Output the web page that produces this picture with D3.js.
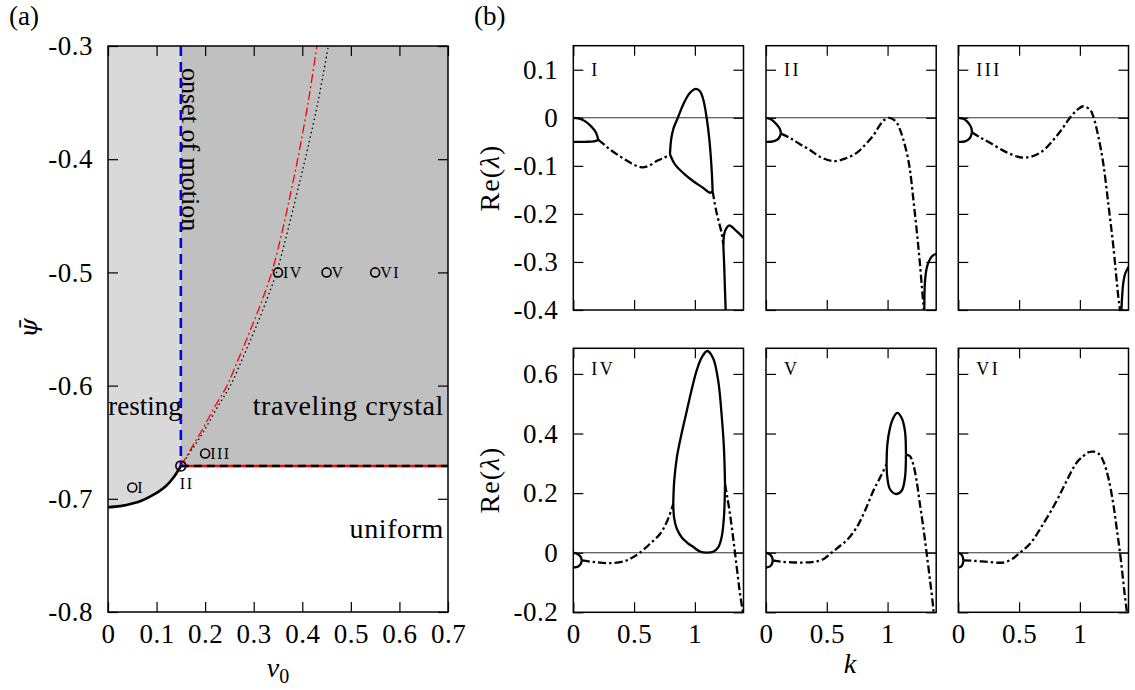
<!DOCTYPE html>
<html>
<head>
<meta charset="utf-8">
<script src="https://cdn.jsdelivr.net/npm/d3@7"></script>
<style>
  html, body { margin: 0; padding: 0; background: #fff; }
  svg { display: block; }
  text { font-family: "Liberation Serif", "Times New Roman", serif; fill: #000; }
</style>
</head>
<body>
<svg id="fig" width="1135" height="690"></svg>
<script>
// ---------- (a) phase diagram in the (v0, psi) plane ----------
const v0Ticks = [0, 0.1, 0.2, 0.3, 0.4, 0.5, 0.6, 0.7];
const v0TickLabels = ["0", "0.1", "0.2", "0.3", "0.4", "0.5", "0.6", "0.7"];
const psiTicks = [-0.3, -0.4, -0.5, -0.6, -0.7, -0.8];
const psiTickLabels = ["-0.3", "-0.4", "-0.5", "-0.6", "-0.7", "-0.8"];

// stationary-crystal existence boundary, [v0, psi]
const restingBoundary = [[0, -0.7075], [0.025, -0.7065], [0.052, -0.704], [0.07, -0.7015],
  [0.0865, -0.698], [0.105, -0.6935], [0.121, -0.688], [0.136, -0.6805], [0.15, -0.671]];
// onset of motion and the codimension-two point
const v0Onset = 0.15;
const psiCodim2 = -0.671;
// linear stability thresholds of the uniform state
const oscillatoryBoundary = [[0.15, -0.671], [0.172, -0.655], [0.194, -0.639], [0.218, -0.62],
  [0.245, -0.6], [0.27, -0.575], [0.294, -0.55], [0.317, -0.525], [0.337, -0.5], [0.358, -0.465],
  [0.376, -0.43], [0.3905, -0.4], [0.412, -0.35], [0.43, -0.3]];
const travelingBoundary = [[0.15, -0.671], [0.175, -0.655], [0.199, -0.639], [0.224, -0.62],
  [0.252, -0.6], [0.278, -0.575], [0.303, -0.55], [0.326, -0.525], [0.347, -0.5], [0.369, -0.465],
  [0.389, -0.43], [0.406, -0.4], [0.432, -0.35], [0.4537, -0.3]];
// parameter sets whose dispersion relations are shown in (b)
const samplePoints = [
  { name: "I", v0: 0.05, psi: -0.69 },
  { name: "II", v0: 0.15, psi: -0.671 },
  { name: "III", v0: 0.2, psi: -0.66 },
  { name: "IV", v0: 0.35, psi: -0.5 },
  { name: "V", v0: 0.45, psi: -0.5 },
  { name: "VI", v0: 0.55, psi: -0.5 }
];

// ---------- (b) dispersion relations Re(lambda)(k) ----------
const kTicks = [0, 0.5, 1];
const kTickLabels = ["0", "0.5", "1"];
const reTicksTop = [0.1, 0, -0.1, -0.2, -0.3, -0.4];
const reTickLabelsTop = ["0.1", "0", "-0.1", "-0.2", "-0.3", "-0.4"];
const reTicksBottom = [0.6, 0.4, 0.2, 0, -0.2];
const reTickLabelsBottom = ["0.6", "0.4", "0.2", "0", "-0.2"];

// "real": real eigenvalues, "complex": complex-conjugate pairs; points are [k, Re(lambda)]
const dispersionI = [
  { kind: "real", pts: [[0, 0], [0.041, -0.001], [0.096, -0.007], [0.151, -0.019], [0.187, -0.031], [0.206, -0.046]] },
  { kind: "real", pts: [[0, -0.05], [0.1, -0.05], [0.17, -0.049], [0.206, -0.046]] },
  { kind: "complex", pts: [[0.206, -0.046], [0.25, -0.055], [0.302, -0.066], [0.37, -0.078], [0.439, -0.089],
    [0.5, -0.098], [0.562, -0.103], [0.62, -0.1], [0.686, -0.09], [0.74, -0.084], [0.795, -0.076]] },
  { kind: "real", pts: [[0.795, -0.076], [0.805, -0.045], [0.822, -0.024], [0.863, 0.002], [0.905, 0.028],
    [0.96, 0.052], [1.009, 0.06], [1.042, 0.055], [1.069, 0.038], [1.097, 0.0], [1.119, -0.045],
    [1.138, -0.108], [1.146, -0.153]] },
  { kind: "real", pts: [[0.795, -0.076], [0.836, -0.097], [0.905, -0.115], [0.987, -0.132], [1.069, -0.146],
    [1.124, -0.156], [1.146, -0.153]] },
  { kind: "complex", pts: [[1.146, -0.153], [1.179, -0.198], [1.22, -0.24], [1.234, -0.264]] },
  { kind: "real", pts: [[1.234, -0.264], [1.243, -0.24], [1.261, -0.229], [1.283, -0.224], [1.343, -0.236], [1.4, -0.25]] },
  { kind: "real", pts: [[1.234, -0.264], [1.24, -0.3], [1.245, -0.337], [1.253, -0.4], [1.255, -0.42]] }
];
const dispersionII = [
  { kind: "real", pts: [[0, 0], [0.047, -0.004], [0.088, -0.014], [0.115, -0.024], [0.123, -0.033]] },
  { kind: "real", pts: [[0, -0.05], [0.06, -0.049], [0.101, -0.044], [0.123, -0.033]] },
  { kind: "complex", pts: [[0.123, -0.033], [0.197, -0.042], [0.28, -0.055], [0.362, -0.067], [0.45, -0.082],
    [0.554, -0.09], [0.65, -0.085], [0.746, -0.073], [0.82, -0.055], [0.882, -0.037], [0.93, -0.018],
    [0.965, -0.006], [1.014, 0], [1.045, -0.003], [1.075, -0.01], [1.1, -0.023], [1.129, -0.045],
    [1.16, -0.075], [1.184, -0.108], [1.21, -0.165], [1.239, -0.233], [1.265, -0.3], [1.289, -0.372],
    [1.299, -0.4], [1.302, -0.42]] },
  { kind: "real", pts: [[1.301, -0.42], [1.302, -0.4], [1.307, -0.344], [1.32, -0.315], [1.335, -0.302],
    [1.362, -0.289], [1.4, -0.283]] }
];
const dispersionIII = [
  { kind: "real", pts: [[0, 0], [0.04, -0.002], [0.069, -0.007], [0.095, -0.015], [0.108, -0.022], [0.112, -0.03]] },
  { kind: "real", pts: [[0, -0.05], [0.055, -0.049], [0.096, -0.042], [0.112, -0.03]] },
  { kind: "complex", pts: [[0.112, -0.03], [0.18, -0.041], [0.26, -0.052], [0.398, -0.072], [0.535, -0.083],
    [0.672, -0.073], [0.809, -0.038], [0.919, 0.0], [0.98, 0.017], [1.028, 0.024], [1.083, 0.017],
    [1.11, 0.003], [1.151, -0.038], [1.192, -0.094], [1.233, -0.177], [1.275, -0.267], [1.316, -0.372],
    [1.33, -0.4], [1.334, -0.42]] },
  { kind: "real", pts: [[1.34, -0.42], [1.342, -0.4], [1.348, -0.37], [1.358, -0.342], [1.372, -0.325], [1.4, -0.31]] }
];
const dispersionIV = [
  { kind: "real", pts: [[0, 0], [0.041, -0.006], [0.062, -0.015], [0.069, -0.026]] },
  { kind: "real", pts: [[0, -0.05], [0.041, -0.046], [0.062, -0.037], [0.069, -0.026]] },
  { kind: "complex", pts: [[0.069, -0.026], [0.165, -0.031], [0.302, -0.035], [0.439, -0.026], [0.494, -0.0145],
    [0.548, 0], [0.631, 0.03], [0.713, 0.063], [0.768, 0.102], [0.822, 0.163]] },
  { kind: "real", pts: [[0.822, 0.163], [0.83, 0.24], [0.852, 0.32], [0.891, 0.4], [0.933, 0.475],
    [0.974, 0.548], [1.015, 0.612], [1.056, 0.655], [1.102, 0.677], [1.151, 0.652], [1.193, 0.574],
    [1.22, 0.463], [1.239, 0.352], [1.248, 0.23]] },
  { kind: "real", pts: [[0.822, 0.163], [0.83, 0.115], [0.85, 0.082], [0.891, 0.052], [0.933, 0.035],
    [0.987, 0.019], [1.042, 0.004], [1.097, 0], [1.151, 0.003], [1.193, 0.019], [1.22, 0.052],
    [1.239, 0.119], [1.248, 0.23]] },
  { kind: "complex", pts: [[1.248, 0.23], [1.265, 0.19], [1.289, 0.13], [1.31, 0.065], [1.33, 0],
    [1.35, -0.068], [1.371, -0.137], [1.395, -0.2], [1.4, -0.215]] }
];
const dispersionV = [
  { kind: "real", pts: [[0, 0], [0.033, -0.006], [0.05, -0.015], [0.055, -0.026]] },
  { kind: "real", pts: [[0, -0.05], [0.033, -0.046], [0.05, -0.037], [0.055, -0.026]] },
  { kind: "complex", pts: [[0.055, -0.026], [0.12, -0.03], [0.2, -0.032], [0.307, -0.033], [0.4, -0.03],
    [0.471, -0.022], [0.54, 0], [0.6, 0.02], [0.663, 0.041], [0.746, 0.085], [0.814, 0.141],
    [0.883, 0.208], [0.938, 0.252], [0.992, 0.297]] },
  { kind: "real", pts: [[0.992, 0.297], [0.998, 0.363], [1.02, 0.419], [1.047, 0.452], [1.08, 0.469],
    [1.116, 0.452], [1.143, 0.408], [1.151, 0.33]] },
  { kind: "real", pts: [[0.992, 0.297], [0.998, 0.252], [1.02, 0.213], [1.069, 0.197], [1.116, 0.208],
    [1.143, 0.252], [1.151, 0.33]] },
  { kind: "complex", pts: [[1.151, 0.33], [1.184, 0.324], [1.211, 0.297], [1.239, 0.241], [1.266, 0.163],
    [1.294, 0.085], [1.321, 0], [1.349, -0.092], [1.376, -0.187], [1.38, -0.215]] }
];
const dispersionVI = [
  { kind: "real", pts: [[0, 0], [0.025, -0.006], [0.037, -0.015], [0.041, -0.026]] },
  { kind: "real", pts: [[0, -0.05], [0.025, -0.046], [0.037, -0.037], [0.041, -0.026]] },
  { kind: "complex", pts: [[0.041, -0.026], [0.123, -0.027], [0.25, -0.031], [0.37, -0.033], [0.44, -0.022],
    [0.507, 0], [0.59, 0.03], [0.699, 0.097], [0.809, 0.174], [0.891, 0.241], [0.973, 0.302],
    [1.028, 0.324], [1.07, 0.337], [1.116, 0.339], [1.16, 0.33], [1.192, 0.308], [1.234, 0.252],
    [1.275, 0.163], [1.302, 0.085], [1.33, 0], [1.371, -0.148], [1.387, -0.2], [1.39, -0.215]] }
];

// ---------- drawing ----------
const svg = d3.select("#fig");
const FONT = '"Liberation Serif", "Times New Roman", serif';
const TICK_FONT = "27px";

// four-sided frame with inward ticks; labels only where given
function frame(g, x, y, xt, xl, yt, yl) {
  const [xa, xb] = x.range();
  const [yb, ya] = y.range();
  const axes = [
    { ax: d3.axisBottom(x).tickValues(xt).tickPadding(12).tickFormat(xl ? (d, i) => xl[i] : ""), t: `translate(0,${yb})` },
    { ax: d3.axisTop(x).tickValues(xt).tickFormat(""), t: `translate(0,${ya})` },
    { ax: d3.axisLeft(y).tickValues(yt).tickPadding(15).tickFormat(yl ? (d, i) => yl[i] : ""), t: `translate(${xa},0)` },
    { ax: d3.axisRight(y).tickValues(yt).tickFormat(""), t: `translate(${xb},0)` }
  ];
  axes.forEach(a => {
    const ag = g.append("g").attr("transform", a.t)
      .call(a.ax.tickSize(-10).tickSizeOuter(0));
    ag.attr("font-family", null).attr("font-size", null);
    ag.select(".domain").remove();
    ag.selectAll(".tick line").attr("stroke", "#000").attr("stroke-width", 1.2);
    ag.selectAll("text").style("font-family", FONT).style("font-size", TICK_FONT)
      .style("letter-spacing", "0.5px");
  });
  g.append("rect").attr("x", xa).attr("y", ya).attr("width", xb - xa).attr("height", yb - ya)
    .attr("fill", "none").attr("stroke", "#000").attr("stroke-width", 1.5);
}

// ----- panel (a) -----
const ax = d3.scaleLinear().domain([0, 0.7]).range([108, 448]);
const ay = d3.scaleLinear().domain([-0.8, -0.3]).range([612, 46]);
const ga = svg.append("g");
const lineA = d3.line().x(d => ax(d[0])).y(d => ay(d[1]));
const smoothA = d3.line().x(d => ax(d[0])).y(d => ay(d[1])).curve(d3.curveCatmullRom.alpha(0.5));

// resting region (light) and traveling-crystal region (dark)
ga.append("path")
  .attr("d", lineA([[0, -0.3], [0, restingBoundary[0][1]]]) +
    smoothA(restingBoundary).replace(/^M/, "L") + lineA([[v0Onset, -0.3]]).replace(/^M/, "L") + "Z")
  .attr("fill", "#d9d9d9");
ga.append("rect")
  .attr("x", ax(v0Onset)).attr("y", ay(-0.3))
  .attr("width", ax(0.7) - ax(v0Onset)).attr("height", ay(psiCodim2) - ay(-0.3))
  .attr("fill", "#c0c0c0");

// instability threshold lines
ga.append("path").attr("d", smoothA(travelingBoundary))
  .attr("fill", "none").attr("stroke", "#000").attr("stroke-width", 1.3).attr("stroke-dasharray", "1.5,3");
ga.append("path").attr("d", smoothA(oscillatoryBoundary))
  .attr("fill", "none").attr("stroke", "#ff0000").attr("stroke-width", 1.3).attr("stroke-dasharray", "9,3,2,3");

// horizontal boundary to the uniform state
ga.append("path").attr("d", lineA([[v0Onset, psiCodim2], [0.7, psiCodim2]]))
  .attr("stroke", "#ff0000").attr("stroke-width", 2.6);
ga.append("path").attr("d", lineA([[v0Onset, psiCodim2], [0.7, psiCodim2]]))
  .attr("stroke", "#000").attr("stroke-width", 2.6).attr("stroke-dasharray", "8,5");
// resting boundary
ga.append("path").attr("d", smoothA(restingBoundary))
  .attr("fill", "none").attr("stroke", "#000").attr("stroke-width", 2.6);
// onset of motion
ga.append("path").attr("d", lineA([[v0Onset, -0.3], [v0Onset, psiCodim2]]))
  .attr("stroke", "#0000ff").attr("stroke-width", 2.6).attr("stroke-dasharray", "10,6");

frame(ga, ax, ay, v0Ticks, v0TickLabels, psiTicks, psiTickLabels);

// sample points
samplePoints.forEach(p => {
  const cx = ax(p.v0), cy = ay(p.psi);
  ga.append("circle").attr("cx", cx).attr("cy", cy).attr("r", p.name === "II" ? 5 : 4.5)
    .attr("fill", "none").attr("stroke", "#000").attr("stroke-width", 1.6);
  const t = ga.append("text").text(p.name).style("font-size", "16px").style("letter-spacing", "1.5px");
  if (p.name === "II") t.attr("x", cx - 1).attr("y", cy + 23);
  else t.attr("x", cx + 5).attr("y", cy + 5.5);
});

// region labels
const lab = (txt, x, y, size, spacing) => ga.append("text").text(txt).attr("x", x).attr("y", y)
  .attr("text-anchor", "end").style("font-size", size).style("letter-spacing", spacing);
lab("resting", ax(v0Onset) + 1, 415, "27px", "0px");
lab("traveling crystal", 444, 415, "28px", "0.6px");
lab("uniform", 444, 538, "28px", "0.6px");
ga.append("text").text("onset of motion")
  .attr("transform", `translate(${ax(v0Onset) + 1},68) rotate(90)`)
  .style("font-size", "26px");

// axis titles
const v0Title = ga.append("text").attr("x", 278).attr("y", 677).attr("text-anchor", "middle")
  .style("font-size", "28px");
v0Title.append("tspan").text("v").style("font-style", "italic");
v0Title.append("tspan").text("0").attr("dy", 6).style("font-size", "20px");
ga.append("text").text("\u03C8\u0304")
  .attr("transform", "translate(37,328) rotate(-90)").attr("text-anchor", "middle")
  .style("font-family", '"DejaVu Serif", serif').style("font-style", "italic").style("font-size", "25px");

svg.append("text").text("(a)").attr("x", 9).attr("y", 25).style("font-size", "27px");
svg.append("text").text("(b)").attr("x", 474).attr("y", 25).style("font-size", "27px");

// ----- panel (b) -----
const colLeft = [573.3, 766, 958.3];
const panelWidth = 170.2;
const rowRange = [[310, 45.7], [612.3, 348.3]];
const rowDomain = [[-0.4, 0.15], [-0.2, 0.686]];
const panels = [
  { name: "I", row: 0, col: 0, branches: dispersionI },
  { name: "II", row: 0, col: 1, branches: dispersionII },
  { name: "III", row: 0, col: 2, branches: dispersionIII },
  { name: "IV", row: 1, col: 0, branches: dispersionIV },
  { name: "V", row: 1, col: 1, branches: dispersionV },
  { name: "VI", row: 1, col: 2, branches: dispersionVI }
];

panels.forEach((p, i) => {
  const x = d3.scaleLinear().domain([0, 1.4]).range([colLeft[p.col], colLeft[p.col] + panelWidth]);
  const y = d3.scaleLinear().domain(rowDomain[p.row]).range(rowRange[p.row]);
  const g = svg.append("g");
  const clipId = "clip" + i;
  g.append("clipPath").attr("id", clipId).append("rect")
    .attr("x", x.range()[0]).attr("y", y.range()[1])
    .attr("width", panelWidth).attr("height", y.range()[0] - y.range()[1]);
  const inner = g.append("g").attr("clip-path", `url(#${clipId})`);

  inner.append("line").attr("x1", x(0)).attr("x2", x(1.4)).attr("y1", y(0)).attr("y2", y(0))
    .attr("stroke", "#333").attr("stroke-width", 1.1);

  const line = d3.line().x(d => x(d[0])).y(d => y(d[1])).curve(d3.curveCatmullRom.alpha(0.5));
  p.branches.forEach(b => {
    inner.append("path").attr("d", line(b.pts))
      .attr("fill", "none").attr("stroke", "#000").attr("stroke-width", 2.3)
      .attr("stroke-dasharray", b.kind === "complex" ? "8,3,2.5,3" : null);
  });

  const yt = p.row === 0 ? reTicksTop : reTicksBottom;
  const yl = p.col === 0 ? (p.row === 0 ? reTickLabelsTop : reTickLabelsBottom) : null;
  frame(g, x, y, kTicks, p.row === 1 ? kTickLabels : null, yt, yl);

  g.append("text").text(p.name)
    .attr("x", x.range()[0] + 18).attr("y", y.range()[1] + (p.row === 0 ? 30 : 27))
    .style("font-size", "18px").style("letter-spacing", "2.5px");
});

// shared axis titles for (b)
[178, 480].forEach(cy => {
  const t = svg.append("text").attr("transform", `translate(499,${cy}) rotate(-90)`)
    .attr("text-anchor", "middle").style("font-size", "28px").style("letter-spacing", "1px");
  t.append("tspan").text("Re(");
  t.append("tspan").text("\u03BB").style("font-style", "italic");
  t.append("tspan").text(")");
});
svg.append("text").text("k").attr("x", 850).attr("y", 673).attr("text-anchor", "middle")
  .style("font-style", "italic").style("font-size", "28px");
</script>
</body>
</html>
